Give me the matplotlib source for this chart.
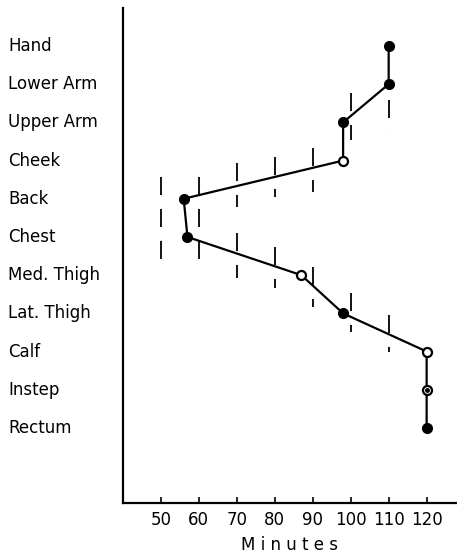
import matplotlib
matplotlib.use('Agg')
import matplotlib.pyplot as plt

# body sites, top to bottom
sites = ['Hand', 'Lower Arm', 'Upper Arm', 'Cheek', 'Back', 'Chest',
         'Med. Thigh', 'Lat. Thigh', 'Calf', 'Instep', 'Rectum']
minutes = [110, 110, 98, 98, 56, 57, 87, 98, 120, 120, 120]
marker_kind = ['filled', 'filled', 'filled', 'open', 'filled', 'filled',
               'open', 'filled', 'open', 'half', 'filled']

x_ticks = [50, 60, 70, 80, 90, 100, 110, 120]

# dashed vertical marks: minute value, lower and upper row position
dash_x = [50, 60, 70, 70, 80, 80, 90, 90, 100, 100, 110, 110]
dash_lo = [5.32, 5.40, 6.79, 4.93, 7.05, 4.66, 7.18, 4.17, 8.54, 3.51, 8.75, 2.99]
dash_hi = [7.57, 7.57, 7.94, 6.10, 8.09, 5.74, 8.33, 5.21, 9.77, 4.53, 9.59, 3.96]

plt.rcParams['lines.scale_dashes'] = False

fig = plt.figure(figsize=(4.57, 5.55), dpi=100)
ax = fig.add_axes([0.269, 0.094, 0.731, 0.892])

ypos = list(range(len(sites), 0, -1))

for x, lo, hi in zip(dash_x, dash_lo, dash_hi):
    ax.plot([x, x], [hi, lo], color='black', lw=1.3, linestyle=(0, (13, 10)))

ax.plot(minutes, ypos, color='black', lw=1.6, zorder=3)

for x, y, kind in zip(minutes, ypos, marker_kind):
    if kind == 'filled':
        ax.plot(x, y, 'o', ms=7, color='black', zorder=4)
    elif kind == 'open':
        ax.plot(x, y, 'o', ms=6.5, mfc='white', mec='black', mew=1.6, zorder=4)
    else:
        ax.plot(x, y, 'o', ms=6.5, mfc='white', mec='black', mew=1.6, zorder=4)
        ax.plot(x, y, 'o', ms=2.5, color='black', zorder=5)

ax.set_xlim(40, 128)
ax.set_ylim(-0.96, 12)

ax.spines['top'].set_visible(False)
ax.spines['right'].set_visible(False)
ax.spines['left'].set_linewidth(1.6)
ax.spines['bottom'].set_linewidth(1.6)

ax.set_xticks(x_ticks)
ax.set_xticklabels([str(t) for t in x_ticks], fontsize=12)
ax.tick_params(axis='x', direction='in', length=4, width=1.2, pad=6)
ax.set_yticks([])

for name, y in zip(sites, ypos):
    ax.text(-0.344, y, name, transform=ax.get_yaxis_transform(),
            ha='left', va='center', fontsize=12)

ax.set_xlabel('M i n u t e s', fontsize=12, labelpad=5)

plt.savefig('out.png', dpi=100)
